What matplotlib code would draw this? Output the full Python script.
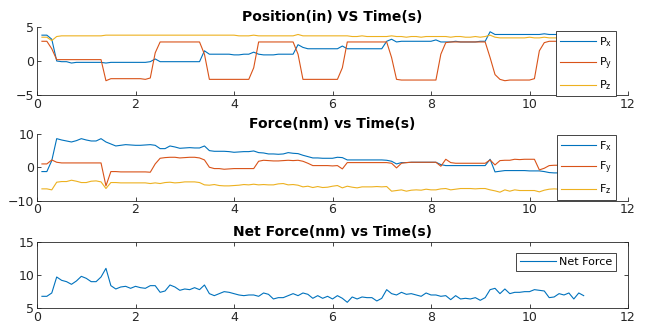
import numpy as np
import matplotlib
matplotlib.use("Agg")
import matplotlib.pyplot as plt

# time samples (s)
t = np.round(np.arange(1, 112) * 0.1, 1)

px = [3.8, 3.8, 3.2, 0.0, -0.1, -0.1, -0.3, -0.2, -0.2, -0.2,
      -0.2, -0.2, -0.2, -0.3, -0.2, -0.2, -0.2, -0.2, -0.2, -0.2,
      -0.2, -0.2, -0.1, 0.3, -0.1, -0.1, -0.1, -0.1, -0.1, -0.1,
      -0.1, -0.1, -0.1, 1.5, 1.0, 1.0, 1.0, 1.0, 1.0, 0.9,
      0.9, 1.0, 1.0, 1.3, 1.0, 0.9, 0.9, 0.9, 1.0, 1.0,
      1.0, 1.0, 2.4, 2.0, 1.8, 1.8, 1.8, 1.8, 1.8, 1.8,
      1.8, 2.2, 1.8, 1.8, 1.8, 1.8, 1.8, 1.8, 1.8, 1.8,
      2.9, 3.2, 2.8, 2.9, 2.9, 2.9, 2.9, 2.9, 2.9, 2.9,
      3.1, 2.8, 2.8, 2.8, 2.9, 2.8, 2.8, 2.8, 2.8, 2.9,
      2.9, 4.3, 3.9, 3.9, 3.9, 3.9, 3.9, 3.9, 3.9, 3.9,
      3.9, 3.9, 4.0, 3.9, 3.9, 3.9, 3.9, 3.9, 3.9, 3.9, 3.9]
py = [2.9, 2.9, 1.8, 0.2, 0.2, 0.2, 0.2, 0.2, 0.2, 0.2,
      0.2, 0.2, 0.2, -2.9, -2.6, -2.6, -2.6, -2.6, -2.6, -2.6,
      -2.6, -2.7, -2.5, 1.2, 2.8, 2.8, 2.8, 2.8, 2.8, 2.8,
      2.8, 2.8, 2.8, 1.0, -2.7, -2.7, -2.7, -2.7, -2.7, -2.7,
      -2.7, -2.7, -2.7, -1.0, 2.8, 2.8, 2.8, 2.8, 2.8, 2.8,
      2.8, 2.8, 1.0, -2.7, -2.7, -2.7, -2.7, -2.7, -2.7, -2.7,
      -2.7, -1.0, 2.8, 2.8, 2.8, 2.8, 2.8, 2.8, 2.8, 2.8,
      2.8, 0.5, -2.7, -2.8, -2.8, -2.8, -2.8, -2.8, -2.8, -2.8,
      -2.8, 1.0, 2.7, 2.8, 2.8, 2.8, 2.8, 2.8, 2.8, 2.8,
      2.8, 0.5, -2.0, -2.7, -2.9, -2.8, -2.8, -2.8, -2.8, -2.8,
      -2.6, 1.5, 2.7, 2.9, 2.9, 2.9, 2.9, 2.9, 2.9, 2.9, 2.9]
pz = [3.5, 3.5, 3.0, 3.6, 3.7, 3.7, 3.7, 3.7, 3.7, 3.7,
      3.7, 3.7, 3.7, 3.8, 3.8, 3.8, 3.8, 3.8, 3.8, 3.8,
      3.8, 3.8, 3.8, 3.8, 3.8, 3.8, 3.8, 3.8, 3.8, 3.8,
      3.8, 3.8, 3.8, 3.8, 3.8, 3.8, 3.8, 3.8, 3.8, 3.8,
      3.7, 3.7, 3.7, 3.8, 3.7, 3.7, 3.7, 3.7, 3.7, 3.7,
      3.7, 3.7, 3.9, 3.7, 3.7, 3.7, 3.7, 3.7, 3.7, 3.7,
      3.7, 3.7, 3.7, 3.6, 3.6, 3.7, 3.6, 3.6, 3.6, 3.6,
      3.6, 3.7, 3.6, 3.6, 3.5, 3.6, 3.6, 3.5, 3.6, 3.6,
      3.6, 3.6, 3.6, 3.5, 3.6, 3.6, 3.5, 3.5, 3.6, 3.5,
      3.6, 3.8, 3.5, 3.4, 3.4, 3.4, 3.4, 3.4, 3.4, 3.5,
      3.4, 3.4, 3.5, 3.4, 3.4, 3.4, 3.4, 3.4, 3.4, 3.4, 3.4]

fx = [-1.3, -1.3, 2.0, 8.6, 8.2, 7.9, 7.6, 8.0, 8.6, 8.2,
      7.9, 7.9, 8.6, 7.6, 7.0, 6.4, 6.6, 6.8, 6.7, 6.6,
      6.6, 6.7, 6.8, 6.6, 5.6, 5.6, 6.4, 6.1, 5.7, 5.8,
      5.9, 5.8, 5.8, 6.4, 5.0, 4.8, 4.8, 4.8, 4.7, 4.5,
      4.6, 4.7, 4.7, 4.9, 4.4, 4.3, 4.0, 4.0, 3.9, 4.0,
      4.4, 4.2, 4.1, 3.6, 3.2, 2.8, 2.8, 2.7, 2.7, 2.7,
      3.0, 2.9, 2.2, 2.2, 2.2, 2.2, 2.2, 2.2, 2.2, 2.2,
      2.1, 1.8, 1.0, 1.4, 1.4, 1.5, 1.5, 1.5, 1.5, 1.5,
      1.5, 0.8, 0.5, 0.5, 0.5, 0.5, 0.5, 0.5, 0.5, 0.5,
      0.5, 2.4, -1.4, -1.2, -1.0, -1.0, -1.0, -1.0, -1.0, -1.1,
      -1.1, -1.1, -1.3, -1.6, -1.7, -1.7, -1.7, -1.7, -1.7, -1.7, -1.7]
fy = [1.0, 1.0, 2.2, 1.5, 1.3, 1.3, 1.3, 1.3, 1.3, 1.3,
      1.3, 1.3, 1.3, -5.6, -1.3, -1.3, -1.4, -1.4, -1.4, -1.4,
      -1.4, -1.4, -1.5, 1.0, 2.7, 2.9, 3.0, 3.0, 2.8, 2.9,
      3.0, 3.0, 2.8, 2.2, 0.0, -0.4, -0.4, -0.6, -0.5, -0.4,
      -0.4, -0.4, -0.4, -0.4, 1.8, 2.1, 2.0, 1.9, 1.9, 2.0,
      2.1, 2.0, 2.1, 1.8, 1.2, 0.5, 0.5, 0.5, 0.5, 0.4,
      0.5, -0.5, 1.4, 1.4, 1.4, 1.4, 1.4, 1.4, 1.4, 1.4,
      1.4, 1.2, -0.2, 1.2, 1.4, 1.5, 1.5, 1.5, 1.5, 1.5,
      1.5, 0.3, 2.4, 1.4, 1.2, 1.2, 1.2, 1.2, 1.2, 1.2,
      1.2, 2.2, 0.7, 2.0, 2.1, 2.1, 2.4, 2.3, 2.4, 2.4,
      2.4, -0.8, -0.3, 0.5, 0.6, 0.6, 0.6, 0.6, 0.6, 0.6, 0.6]
fz = [-6.5, -6.5, -6.8, -4.5, -4.3, -4.3, -3.9, -4.2, -4.6, -4.6,
      -4.2, -4.1, -4.4, -6.4, -4.6, -4.6, -4.7, -4.7, -4.7, -4.7,
      -4.7, -4.7, -4.9, -4.7, -4.9, -4.6, -4.5, -4.7, -4.6, -4.4,
      -4.4, -4.4, -4.6, -5.3, -5.4, -5.2, -5.5, -5.6, -5.6, -5.5,
      -5.4, -5.2, -5.3, -5.1, -5.3, -5.2, -5.3, -5.3, -5.0, -4.9,
      -5.3, -5.2, -5.4, -5.9, -5.7, -6.1, -5.8, -6.1, -6.0, -5.7,
      -5.5, -6.2, -5.7, -6.0, -6.2, -5.9, -5.9, -5.9, -5.8, -5.9,
      -5.8, -7.2, -7.0, -6.8, -7.2, -6.9, -6.8, -6.9, -6.6, -6.8,
      -6.8, -6.5, -6.4, -6.8, -6.6, -6.4, -6.4, -6.4, -6.5, -6.4,
      -6.4, -6.8, -7.1, -7.5, -6.8, -7.2, -6.8, -7.0, -7.0, -7.0,
      -7.0, -7.4, -6.9, -6.6, -6.5, -6.6, -6.6, -6.6, -6.6, -6.6, -6.6]

net = [6.8, 6.8, 7.3, 9.7, 9.2, 9.0, 8.6, 9.1, 9.8, 9.5,
       9.0, 9.0, 9.7, 11.0, 8.4, 7.9, 8.2, 8.3, 8.0, 8.3,
       8.1, 8.0, 8.4, 8.4, 7.4, 7.6, 8.5, 8.2, 7.7, 7.9,
       7.8, 8.1, 7.8, 8.5, 7.2, 6.9, 7.2, 7.5, 7.4, 7.2,
       7.0, 6.9, 7.0, 7.0, 6.8, 7.3, 7.1, 6.4, 6.6, 6.6,
       6.9, 7.2, 6.9, 7.3, 7.1, 6.5, 6.9, 6.5, 6.8, 6.4,
       6.9, 6.5, 5.9, 6.7, 6.4, 6.7, 6.6, 6.6, 6.1, 6.5,
       7.8, 7.2, 7.0, 7.4, 7.1, 7.2, 7.0, 6.8, 7.3, 7.0,
       7.0, 6.8, 6.9, 6.3, 6.9, 6.4, 6.5, 6.4, 6.6, 6.2,
       6.6, 7.8, 8.0, 7.2, 7.9, 7.2, 7.4, 7.4, 7.5, 7.5,
       7.8, 7.7, 7.6, 6.6, 6.7, 7.2, 7.0, 7.3, 6.4, 7.3, 6.9]

colors = ["#0072BD", "#D95319", "#EDB120"]
axcol = "#262626"
lw = 0.8

fig = plt.figure(figsize=(6.48, 3.26), dpi=100)
left, width = 37 / 648, 591 / 648
ax1 = fig.add_axes([left, 1 - 95 / 326, width, 68 / 326])
ax2 = fig.add_axes([left, 1 - 200.5 / 326, width, 66.5 / 326])
ax3 = fig.add_axes([left, 1 - 308.3 / 326, width, 66.6 / 326])


def style(ax, box):
    ax.set_xlim(0, 12)
    ax.set_xticks(range(0, 13, 2))
    for s in ["left", "bottom", "top", "right"]:
        ax.spines[s].set_color(axcol)
        ax.spines[s].set_linewidth(0.6)
    if not box:
        ax.spines["top"].set_visible(False)
        ax.spines["right"].set_visible(False)
    ax.tick_params(direction="in", length=3, width=0.6, colors=axcol,
                   labelsize=9, top=box, right=box, pad=2)


def leg(ax, anchor, spacing=0.6):
    lg = ax.legend(loc="upper right", fontsize=8, frameon=True, fancybox=False,
                   edgecolor="#262626", framealpha=1, handlelength=3.2,
                   handletextpad=0.3, borderpad=0.35, borderaxespad=0,
                   labelspacing=spacing, bbox_to_anchor=anchor)
    lg.get_frame().set_linewidth(0.6)


ax1.plot(t, px, color=colors[0], lw=lw, label="P$_\\mathregular{x}$")
ax1.plot(t, py, color=colors[1], lw=lw, label="P$_\\mathregular{y}$")
ax1.plot(t, pz, color=colors[2], lw=lw, label="P$_\\mathregular{z}$")
ax1.set_ylim(-5, 5)
ax1.set_yticks([-5, 0, 5])
style(ax1, False)
ax1.set_title("Position(in) VS Time(s)", fontsize=10, fontweight="bold", pad=4)
leg(ax1, (0.98, 0.94))

ax2.plot(t, fx, color=colors[0], lw=lw, label="F$_\\mathregular{x}$")
ax2.plot(t, fy, color=colors[1], lw=lw, label="F$_\\mathregular{y}$")
ax2.plot(t, fz, color=colors[2], lw=lw, label="F$_\\mathregular{z}$")
ax2.set_ylim(-10, 10)
ax2.set_yticks([-10, 0, 10])
style(ax2, False)
ax2.set_title("Force(nm) vs Time(s)", fontsize=10, fontweight="bold", pad=4)
leg(ax2, (0.98, 0.985))

ax3.plot(t, net, color=colors[0], lw=lw, label="Net Force")
ax3.set_ylim(5, 15)
ax3.set_yticks([5, 10, 15])
style(ax3, True)
ax3.set_title("Net Force(nm) vs Time(s)", fontsize=10, fontweight="bold", pad=4)
leg(ax3, (0.98, 0.83))

fig.savefig("out.png", dpi=100)
